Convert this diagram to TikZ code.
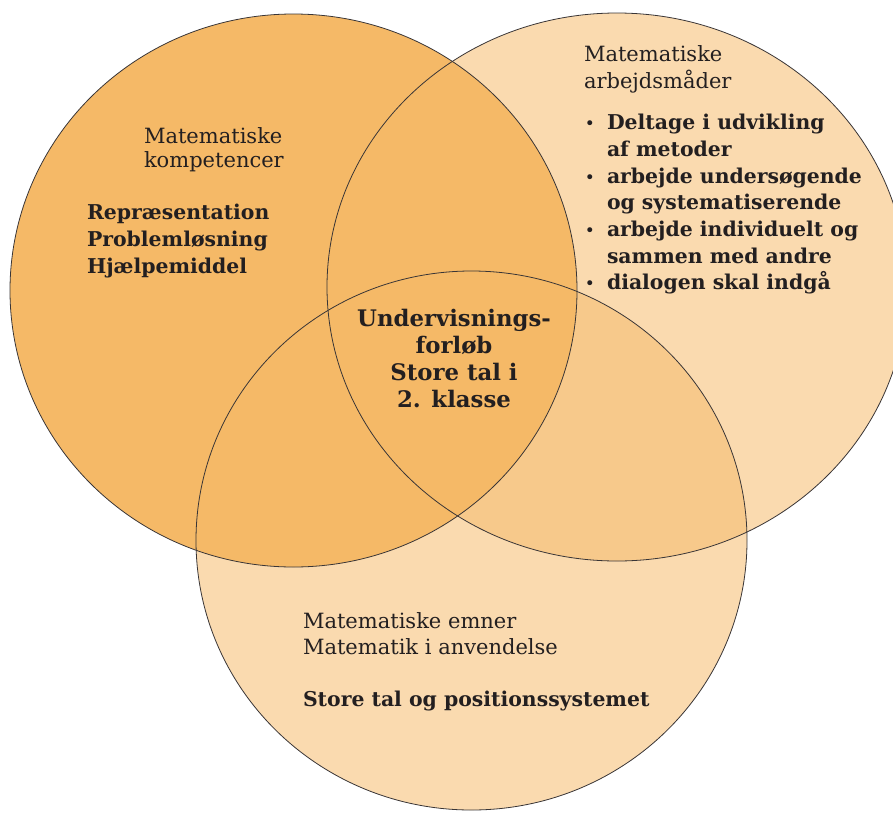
\documentclass[tikz,border=0pt]{standalone}
\usepackage{fontspec}
\setmainfont{DejaVu Serif}
\begin{document}
\begin{tikzpicture}[x=1pt,y=-1pt,
  txt/.style={inner sep=0pt,outer sep=0pt,text=ink,font=\fontsize{21}{25}\selectfont},
  btxt/.style={txt,font=\fontsize{20.4}{25}\selectfont\bfseries},
  ctxt/.style={txt,font=\fontsize{22.8}{25}\selectfont\bfseries},
  bul/.style={txt,font=\fontsize{17}{25}\selectfont},
  rim/.style={draw=ink!90,line width=0.8pt}]
\definecolor{ink}{HTML}{231F20}
\definecolor{darkor}{HTML}{F5B967}
\definecolor{lightor}{HTML}{FADAAF}
\definecolor{midor}{HTML}{F7C98B}
\useasboundingbox (0,0) rectangle (893,814);
\begin{scope}
\clip (0,0) rectangle (893,814);
\coordinate (cl) at (293.5,290.5);
\coordinate (cr) at (617,287);
\coordinate (cb) at (471.5,540.5);
\fill[lightor] (cb) ellipse [x radius=275.5pt, y radius=269.5pt];
\fill[lightor] (cr) ellipse [x radius=290pt, y radius=274pt];
\begin{scope}
\clip (cr) ellipse [x radius=290pt, y radius=274pt];
\fill[midor] (cb) ellipse [x radius=275.5pt, y radius=269.5pt];
\end{scope}
\fill[darkor] (cl) ellipse [x radius=283.5pt, y radius=276.5pt];
\draw[rim] (cl) ellipse [x radius=283.5pt, y radius=276.5pt];
\draw[rim] (cr) ellipse [x radius=290pt, y radius=274pt];
\draw[rim] (cb) ellipse [x radius=275.5pt, y radius=269.5pt];
\end{scope}
% left block
\node[txt,anchor=base west] (l1) at (144,143) {Matematiske};
\node[txt,anchor=base west] (l2) at (144,167) {kompetencer};
\node[btxt,anchor=base west] (l3) at (87,219) {Repræsentation};
\node[btxt,anchor=base west] (l4) at (87,246) {Problemløsning};
\node[btxt,anchor=base west] (l5) at (87,273) {Hjælpemiddel};
% right block
\node[txt,anchor=base west] (r1) at (584,61) {Matematiske};
\node[txt,anchor=base west] (r2) at (584,88) {arbejdsmåder};
\node[bul,anchor=base] (b1) at (590,129) {•};
\node[btxt,anchor=base west] (r3) at (607,129) {Deltage i udvikling};
\node[btxt,anchor=base west] (r4) at (607,156) {af metoder};
\node[bul,anchor=base] (b2) at (590,183) {•};
\node[btxt,anchor=base west] (r5) at (607,183) {arbejde undersøgende};
\node[btxt,anchor=base west] (r6) at (607,209) {og systematiserende};
\node[bul,anchor=base] (b3) at (590,236) {•};
\node[btxt,anchor=base west] (r7) at (607,236) {arbejde individuelt og};
\node[btxt,anchor=base west] (r8) at (607,263) {sammen med andre};
\node[bul,anchor=base] (b4) at (590,289) {•};
\node[btxt,anchor=base west] (r9) at (607,289) {dialogen skal indgå};
% centre block
\node[ctxt,anchor=base] (c1) at (454,326) {Undervisnings-};
\node[ctxt,anchor=base] (c2) at (454,353) {forløb};
\node[ctxt,anchor=base] (c3) at (454,380) {Store tal i};
\node[ctxt,anchor=base] (c4) at (454,407) {2. klasse};
% bottom block
\node[txt,anchor=base west] (m1) at (303,628) {Matematiske emner};
\node[txt,anchor=base west] (m2) at (303,654) {Matematik i anvendelse};
\node[btxt,anchor=base west] (m3) at (303,706) {Store tal og positionssystemet};
\end{tikzpicture}
\end{document}
